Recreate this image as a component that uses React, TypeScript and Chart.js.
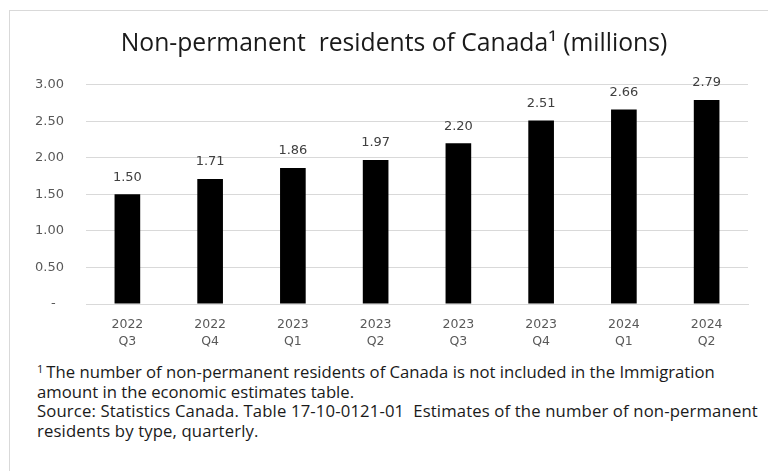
import React, { useEffect, useRef } from "react";
import { Chart, registerables } from "chart.js";

Chart.register(...registerables);

const years = ["2022", "2022", "2023", "2023", "2023", "2023", "2024", "2024"];
const quarters = ["Q3", "Q4", "Q1", "Q2", "Q3", "Q4", "Q1", "Q2"];
const values = [1.5, 1.71, 1.86, 1.97, 2.2, 2.51, 2.66, 2.79];
const yMin = 0;
const yMax = 3;
const yStep = 0.5;
const titleText = "Non-permanent  residents of Canada\u00B9 (millions)";
const footnoteLines = [
  "The number of non-permanent residents of Canada is not included in the Immigration",
  "amount in the economic estimates table.",
];
const sourceLines = [
  "Source: Statistics Canada. Table 17-10-0121-01  Estimates of the number of non-permanent",
  "residents by type, quarterly.",
];

const valueLabels = {
  id: "valueLabels",
  afterDatasetsDraw(chart: any) {
    const ctx = chart.ctx;
    const meta = chart.getDatasetMeta(0);
    ctx.save();
    ctx.font = "13px 'DejaVu Sans'";
    ctx.fillStyle = "#404040";
    ctx.textAlign = "center";
    ctx.textBaseline = "middle";
    meta.data.forEach((bar: any, i: number) => {
      ctx.fillText(values[i].toFixed(2), bar.x, bar.y - 17);
    });
    ctx.restore();
  },
};

const titlePlugin = {
  id: "customTitle",
  afterDraw(chart: any) {
    const ctx = chart.ctx;
    ctx.save();
    ctx.font = "24.7px 'Open Sans'";
    ctx.fillStyle = "#1a1a1a";
    ctx.textAlign = "center";
    ctx.textBaseline = "middle";
    ctx.fillText(titleText, 394, 44);
    ctx.restore();
  },
};

export default function App() {
  const ref = useRef<HTMLCanvasElement | null>(null);

  useEffect(() => {
    document.body.style.margin = "0";
    document.body.style.overflow = "hidden";
    const canvas = ref.current;
    if (!canvas) return;
    const chart = new Chart(canvas, {
      type: "bar",
      data: {
        labels: years.map((y, i) => [y, quarters[i]]),
        datasets: [
          {
            data: values,
            backgroundColor: "#000000",
            borderWidth: 0,
            categoryPercentage: 1,
            barPercentage: 0.31,
          },
        ],
      },
      options: {
        animation: false,
        responsive: true,
        maintainAspectRatio: false,
        layout: { padding: { left: 0, right: 20, top: 84.7, bottom: 0 } },
        plugins: {
          legend: { display: false },
          tooltip: { enabled: false },
          title: { display: false },
        },
        scales: {
          x: {
            grid: { display: false, drawTicks: false },
            border: { display: true, color: "#d9d9d9" },
            ticks: {
              color: "#595959",
              font: { family: "DejaVu Sans", size: 12.5, lineHeight: "17px" },
              padding: 12,
              maxRotation: 0,
              autoSkip: false,
            },
            afterFit: (s: any) => {
              s.height = 56;
            },
          },
          y: {
            min: yMin,
            max: yMax,
            grid: { color: "#d9d9d9", drawTicks: false },
            border: { display: false },
            ticks: {
              stepSize: yStep,
              color: "#595959",
              font: { family: "DejaVu Sans", size: 13 },
              padding: 22,
              callback: (v: any) => (Number(v) === 0 ? "-  " : Number(v).toFixed(2)),
            },
            afterFit: (s: any) => {
              s.width = 86;
            },
          },
        },
      },
      plugins: [valueLabels, titlePlugin],
    });
    return () => chart.destroy();
  }, []);

  const textStyle: React.CSSProperties = {
    position: "absolute",
    left: 37,
    fontFamily: "'Open Sans'",
    fontSize: 16.7,
    color: "#1a1a1a",
    whiteSpace: "pre",
    lineHeight: "19.5px",
  };

  return (
    <div style={{ position: "relative", width: 768, height: 471, overflow: "hidden", background: "#fff" }}>
      <div
        style={{
          position: "absolute",
          left: 9,
          top: 10,
          width: 759,
          height: 461,
          borderLeft: "1px solid #d9d9d9",
          borderTop: "1px solid #d9d9d9",
          boxSizing: "border-box",
        }}
      />
      <div style={{ position: "absolute", left: 0, top: 0, width: 768, height: 360 }}>
        <canvas ref={ref} />
      </div>
      <div style={{ ...textStyle, top: 362 }}>
        <sup style={{ fontSize: 11, verticalAlign: "5px", marginRight: 3, lineHeight: 0 }}>1</sup>
        {footnoteLines[0]}
        <br />
        {footnoteLines[1]}
      </div>
      <div style={{ ...textStyle, top: 401, letterSpacing: "0.14px" }}>
        {sourceLines[0]}
        <br />
        {sourceLines[1]}
      </div>
    </div>
  );
}
